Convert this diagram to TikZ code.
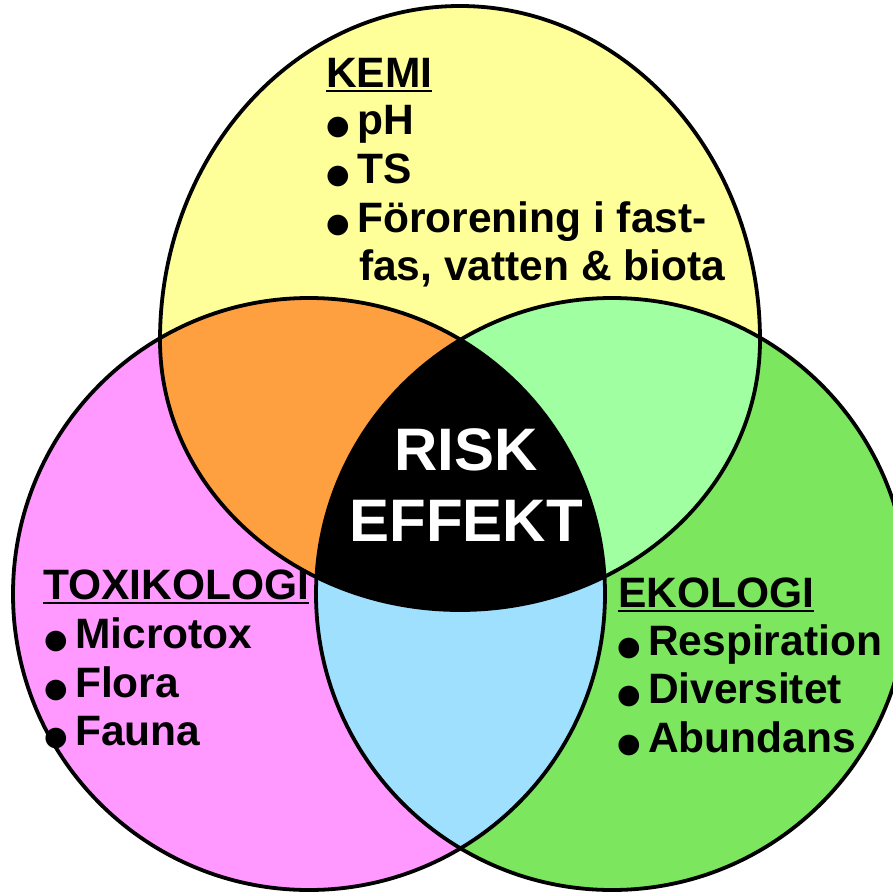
\documentclass[tikz,border=0pt]{standalone}
\usepackage{fontspec}
\setmainfont{Liberation Sans}
\newfontfamily\bulfont{DejaVu Sans}
\definecolor{cyel}{RGB}{255,255,153}
\definecolor{cpink}{RGB}{255,153,255}
\definecolor{cgreen}{RGB}{125,230,95}
\definecolor{clgreen}{RGB}{160,255,160}
\definecolor{corange}{RGB}{255,160,64}
\definecolor{cblue}{RGB}{160,224,255}
\newsavebox\ulbox
\newcommand\ulin[1]{\sbox\ulbox{#1}\rlap{\rule[-5pt]{\wd\ulbox}{2.5pt}}\usebox\ulbox}
\newcommand\bul{\makebox[31pt][l]{\bulfont\fontsize{27}{27}\selectfont ●}}
\begin{document}
\begin{tikzpicture}[x=1pt,y=-1pt,
  outline/.style={draw=black,line width=3.8pt},
  txt/.style={font=\bfseries\fontsize{42.5}{48}\selectfont,inner sep=0pt,anchor=base west,text=black},
  bigtxt/.style={font=\bfseries\fontsize{60}{60}\selectfont,inner sep=0pt,anchor=base,text=white}]
\useasboundingbox (0,0) rectangle (893,894);
\clip (0,0) rectangle (893,894);
\def\yel{(160,340) arc[start angle=180,end angle=0,x radius=300pt,y radius=334pt] arc[start angle=0,end angle=-180,x radius=300pt,y radius=270pt] -- cycle}
\def\pnk{(309,594) circle[radius=296pt]}
\def\grn{(612,594) circle[radius=296pt]}
% base fills
\fill[cyel] \yel;
\fill[cpink] \pnk;
\fill[cgreen] \grn;
% pairwise overlaps
\begin{scope}
  \clip \yel;
  \fill[corange] \pnk;
  \fill[clgreen] \grn;
\end{scope}
\begin{scope}
  \clip \pnk;
  \fill[cblue] \grn;
\end{scope}
% triple overlap
\begin{scope}
  \clip \yel;
  \clip \pnk;
  \fill[black] \grn;
\end{scope}
% outlines
\draw[outline] \yel;
\draw[outline] \pnk;
\draw[outline] \grn;
% KEMI
\node[txt] (kemi) at (326,87) {\ulin{KEMI}};
\node[txt] (k1) at (326,134) {\bul pH};
\node[txt] (k2) at (326,183) {\bul TS};
\node[txt] (k3) at (326,232) {\bul Förorening i fast-};
\node[txt] (k4) at (359,280) {fas, vatten \& biota};
% TOXIKOLOGI
\node[txt] (tox) at (43,599) {\ulin{TOXIKOLOGI}};
\node[txt] (t1) at (44,648) {\bul Microtox};
\node[txt] (t2) at (44,697) {\bul Flora};
\node[txt] (t3) at (44,745) {\bul Fauna};
% EKOLOGI
\node[txt] (eko) at (618,607) {\ulin{EKOLOGI}};
\node[txt] (e1) at (617,655) {\bul Respiration};
\node[txt] (e2) at (617,703) {\bul Diversitet};
\node[txt] (e3) at (617,752) {\bul Abundans};
% centre
\node[bigtxt] (risk) at (466,470) {RISK};
\node[bigtxt] (effekt) at (466,541) {EFFEKT};
\end{tikzpicture}
\end{document}
